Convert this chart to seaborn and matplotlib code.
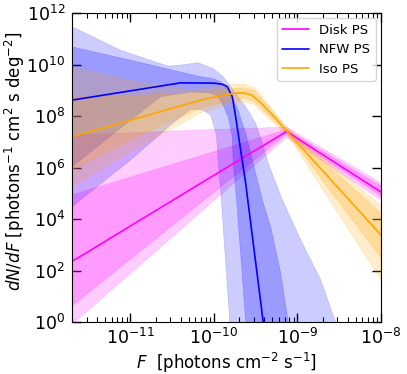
import numpy as np
import matplotlib
matplotlib.use("Agg")
import matplotlib.pyplot as plt
import seaborn as sns
from matplotlib.ticker import LogLocator, NullLocator, NullFormatter

sns.set_style("ticks", {"axes.edgecolor": "black", "xtick.color": "black",
                        "ytick.color": "black", "text.color": "black",
                        "axes.labelcolor": "black"})
plt.rcParams['font.family'] = ['DejaVu Sans']

# all values are log10(F) / log10(dN/dF)

# --- Disk PS (magenta) ---
disk_med_f = [-11.70, -10.28, -9.13, -8.0]
disk_med_n = [2.35, 5.15, 7.40, 5.05]
disk_hi68_f = [-11.70, -9.13, -8.0]
disk_hi68_n = [4.93, 7.48, 5.28]
disk_lo68_f = [-11.70, -9.13, -8.0]
disk_lo68_n = [0.62, 7.30, 4.89]
disk_hi95_f = [-11.70, -10.16, -9.13, -8.0]
disk_hi95_n = [7.26, 7.46, 7.57, 5.40]
disk_lo95_f = [-11.70, -9.13, -8.0]
disk_lo95_n = [-0.10, 7.18, 4.74]

# --- NFW PS (blue) ---
nfw_med_f = [-11.70, -11.0, -10.40, -10.01, -9.90, -9.84, -9.78, -9.74, -9.68, -9.62, -9.41, -9.39]
nfw_med_n = [8.62, 8.98, 9.29, 9.28, 9.24, 9.14, 8.75, 7.97, 6.68, 5.39, 0.0, -0.31]
nfw_hi68_f = [-11.70, -11.0, -10.40, -10.16, -10.01, -9.92, -9.80, -9.71, -9.62, -9.54, -9.42, -9.32, -9.20, -9.11, -9.08]
nfw_hi68_n = [10.69, 10.17, 9.71, 9.53, 9.46, 9.33, 8.88, 8.23, 7.34, 6.29, 4.74, 3.69, 1.90, 0.0, -0.31]
nfw_lo68_f = [-11.70, -11.0, -10.64, -10.28, -10.04, -9.95, -9.89, -9.83, -9.78, -9.77, -9.73, -9.68, -9.62, -9.61]
nfw_lo68_n = [6.03, 7.84, 8.75, 8.94, 8.90, 8.75, 8.43, 7.97, 7.20, 6.29, 4.74, 2.64, 0.0, -0.31]
nfw_hi95_f = [-11.70, -11.12, -10.55, -10.40, -10.19, -10.01, -9.89, -9.77, -9.62, -9.50, -9.42, -9.35, -9.18, -8.96, -8.72, -8.51]
nfw_hi95_n = [11.47, 10.56, 9.94, 9.98, 10.07, 9.85, 9.53, 9.01, 8.36, 7.72, 6.94, 6.17, 4.74, 3.18, 1.63, -0.31]
nfw_lo95_f = [-11.70, -11.0, -10.52, -10.28, -10.13, -10.04, -9.97, -9.95, -9.92, -9.87, -9.81, -9.80]
nfw_lo95_n = [4.48, 6.29, 7.65, 8.27, 8.23, 8.04, 7.26, 6.29, 5.13, 2.80, 0.0, -0.31]

# --- Iso PS (orange) ---
iso_med_f = [-11.70, -11.0, -10.16, -9.86, -9.74, -9.64, -9.54, -9.44, -9.32, -9.13, -8.0]
iso_med_n = [7.20, 7.84, 8.62, 8.83, 8.89, 8.90, 8.80, 8.52, 8.12, 7.42, 3.38]
iso_hi68_f = [-11.70, -11.0, -10.16, -9.80, -9.64, -9.52, -9.44, -9.13, -8.0]
iso_hi68_n = [8.75, 8.78, 8.93, 9.07, 9.10, 9.00, 8.72, 7.53, 4.23]
iso_lo68_f = [-11.70, -11.0, -10.16, -9.80, -9.64, -9.52, -9.44, -9.12, -8.0]
iso_lo68_n = [5.90, 7.07, 8.31, 8.60, 8.68, 8.58, 8.32, 7.30, 2.49]
iso_hi95_f = [-11.70, -11.0, -10.28, -9.80, -9.64, -9.52, -9.44, -9.14, -8.0]
iso_hi95_n = [9.91, 9.40, 9.01, 9.22, 9.25, 9.12, 8.85, 7.61, 4.54]
iso_lo95_f = [-11.70, -11.0, -10.16, -9.80, -9.64, -9.52, -9.44, -9.11, -8.0]
iso_lo95_n = [5.25, 6.60, 8.12, 8.47, 8.54, 8.45, 8.18, 7.22, 1.63]

x_major = [-11, -10, -9, -8]
y_major = [0, 2, 4, 6, 8, 10, 12]

components = [
    ("Disk PS", "#ff00ff",
     (disk_med_f, disk_med_n), (disk_hi68_f, disk_hi68_n), (disk_lo68_f, disk_lo68_n),
     (disk_hi95_f, disk_hi95_n), (disk_lo95_f, disk_lo95_n)),
    ("NFW PS", "#0000ff",
     (nfw_med_f, nfw_med_n), (nfw_hi68_f, nfw_hi68_n), (nfw_lo68_f, nfw_lo68_n),
     (nfw_hi95_f, nfw_hi95_n), (nfw_lo95_f, nfw_lo95_n)),
    ("Iso PS", "#ffa500",
     (iso_med_f, iso_med_n), (iso_hi68_f, iso_hi68_n), (iso_lo68_f, iso_lo68_n),
     (iso_hi95_f, iso_hi95_n), (iso_lo95_f, iso_lo95_n)),
]


def band(ax, hi, lo, color, alpha):
    # polygon: upper edge left->right, then lower edge right->left
    xs = np.concatenate([np.array(hi[0]), np.array(lo[0])[::-1]])
    ys = np.concatenate([np.array(hi[1]), np.array(lo[1])[::-1]])
    ax.fill(10.0 ** xs, 10.0 ** ys, color=color, alpha=alpha, lw=0.4)


fig = plt.figure(figsize=(4.07, 3.74), dpi=100)
ax = fig.add_axes([0.177, 0.139, 0.759, 0.826])
ax.set_xscale('log')
ax.set_yscale('log')

for name, col, med, hi68, lo68, hi95, lo95 in components:
    band(ax, hi95, lo95, col, 0.2)
    band(ax, hi68, lo68, col, 0.24)
    sns.lineplot(x=10.0 ** np.array(med[0]), y=10.0 ** np.array(med[1]),
                 color=col, linewidth=1.2, label=name, ax=ax, sort=False)

ax.set_xlim(2e-12, 1e-8)
ax.set_ylim(1, 1e12)
ax.set_xticks([10.0 ** k for k in x_major])
ax.set_yticks([10.0 ** k for k in y_major])
ax.yaxis.set_minor_locator(NullLocator())
ax.xaxis.set_minor_locator(LogLocator(base=10, subs=np.arange(2, 10), numticks=20))
ax.xaxis.set_minor_formatter(NullFormatter())
ax.tick_params(which='both', direction='in', top=True, right=True, labelsize=12.5)
ax.tick_params(which='major', length=6.5, width=1)
ax.tick_params(axis='y', which='major', pad=5)
ax.tick_params(axis='x', which='major', pad=4)
ax.tick_params(which='minor', length=3.5, width=0.8)

ax.set_xlabel(r'$F$  [photons cm$^{-2}$ s$^{-1}$]', fontsize=12, labelpad=2)
ax.set_ylabel(r'$dN/dF$ [photons$^{-1}$ cm$^2$ s deg$^{-2}$]', fontsize=12)
ax.yaxis.set_label_coords(-0.145, 0.52)
ax.legend(loc='upper right', fontsize=9.5, frameon=True, borderaxespad=0.4)

fig.savefig('out.png', dpi=100)
